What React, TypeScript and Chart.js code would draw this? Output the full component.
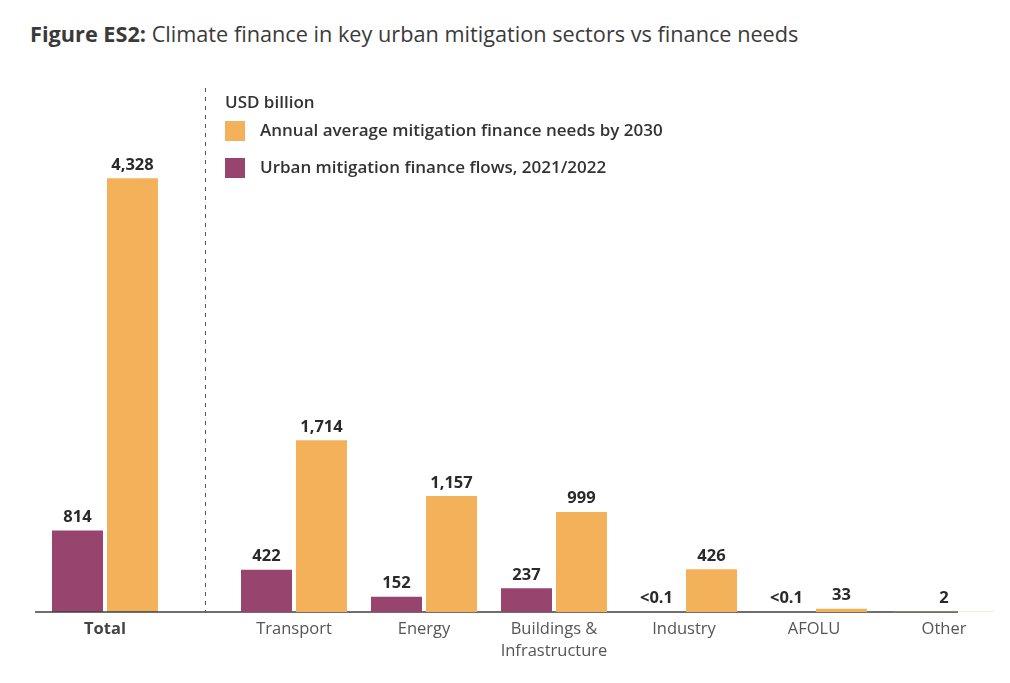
import React, { useEffect, useRef } from "react";
import { Chart, registerables } from "chart.js";

Chart.register(...registerables);

// ---- data (USD billion) ----
const totalCategory = ["Total"];
const totalFlows = [814];
const totalNeeds = [4328];

const sectorCategories: (string | string[])[] = [
  "Transport",
  "Energy",
  ["Buildings &", "Infrastructure"],
  "Industry",
  "AFOLU",
  "Other",
];
const sectorFlows: (number | null)[] = [422, 152, 237, 0.05, 0.05, null];
const sectorNeeds: number[] = [1714, 1157, 999, 426, 33, 2];

const needsLabel = "Annual average mitigation finance needs by 2030";
const flowsLabel = "Urban mitigation finance flows, 2021/2022";

const ORANGE = "#F3B25A";
const PURPLE = "#97446F";
const FONT = "'Open Sans', Lato, sans-serif";

function fmt(v: number | null): string {
  if (v === null || v === undefined) return "";
  if (v < 0.1) return "<0.1";
  return v.toLocaleString("en-US");
}

const valueLabelPlugin = {
  id: "valueLabels",
  afterDatasetsDraw(chart: any) {
    const ctx = chart.ctx;
    ctx.save();
    ctx.font = `bold 16.5px ${FONT}`;
    ctx.fillStyle = "#2a2a2a";
    ctx.textAlign = "center";
    ctx.textBaseline = "bottom";
    chart.data.datasets.forEach((ds: any, di: number) => {
      const meta = chart.getDatasetMeta(di);
      meta.data.forEach((el: any, i: number) => {
        const v = ds.data[i];
        if (v === null || v === undefined) return;
        ctx.fillText(fmt(v), el.x, el.y - 5);
      });
    });
    ctx.restore();
  },
};

const baselinePlugin = {
  id: "baseline",
  afterDraw(chart: any, _args: any, opts: any) {
    if (!opts || !opts.enabled) return;
    const ctx = chart.ctx;
    const y = chart.scales.y.getPixelForValue(0);
    ctx.save();
    ctx.strokeStyle = "#3f3f3f";
    ctx.lineWidth = 1.5;
    ctx.beginPath();
    ctx.moveTo(opts.from, y);
    ctx.lineTo(opts.to, y);
    ctx.stroke();
    // dashed divider between Total and sectors
    ctx.strokeStyle = "#555";
    ctx.lineWidth = 1;
    ctx.setLineDash([4, 5]);
    ctx.beginPath();
    ctx.moveTo(opts.dividerX, opts.dividerTop);
    ctx.lineTo(opts.dividerX, y);
    ctx.stroke();
    ctx.restore();
  },
};

type PanelProps = {
  labels: (string | string[])[];
  flows: (number | null)[];
  needs: number[];
  padLeft: number;
  padRight: number;
  catPct: number;
  boldTicks: boolean;
  drawBase: boolean;
};

function BarPanel(p: PanelProps) {
  const ref = useRef<HTMLCanvasElement>(null);
  useEffect(() => {
    if (!ref.current) return;
    const chart = new Chart(ref.current, {
      type: "bar",
      data: {
        labels: p.labels as any,
        datasets: [
          {
            label: flowsLabel,
            data: p.flows as any,
            backgroundColor: PURPLE,
            categoryPercentage: p.catPct,
            barPercentage: 0.927,
            skipNull: true,
          } as any,
          {
            label: needsLabel,
            data: p.needs,
            backgroundColor: ORANGE,
            categoryPercentage: p.catPct,
            barPercentage: 0.927,
            skipNull: true,
          } as any,
        ],
      },
      options: {
        animation: false,
        responsive: true,
        maintainAspectRatio: false,
        layout: { padding: { left: p.padLeft, right: p.padRight, top: 111, bottom: 11 } },
        plugins: {
          legend: { display: false },
          tooltip: { enabled: false },
          baseline: { enabled: p.drawBase, from: 35, to: 958, dividerX: 205.5, dividerTop: 88 },
        } as any,
        scales: {
          x: {
            grid: { display: false, drawTicks: false },
            border: { display: false },
            ticks: {
              color: p.boldTicks ? "#444" : "#555",
              font: { family: FONT, size: 16.5, weight: p.boldTicks ? "bold" : "normal", lineHeight: 1.33 },
              padding: 6,
              maxRotation: 0,
              autoSkip: false,
            },
            afterFit: (scale: any) => {
              scale.height = 60;
            },
          },
          y: { display: false, min: 0, max: 5000 },
        },
      },
      plugins: [valueLabelPlugin, baselinePlugin],
    });
    return () => chart.destroy();
  }, []);
  return (
    <div style={{ position: "absolute", left: 0, top: 0, width: 1010, height: 683 }}>
      <canvas ref={ref} />
    </div>
  );
}

export default function App() {
  return (
    <div
      style={{
        position: "absolute",
        left: 0,
        top: 0,
        width: 1010,
        height: 683,
        background: "#fff",
        fontFamily: FONT,
        overflow: "hidden",
      }}
    >
      <div
        style={{
          position: "absolute",
          left: 30,
          top: 20,
          fontSize: 21.7,
          color: "#3a3a3a",
          whiteSpace: "nowrap",
          lineHeight: "28px",
        }}
      >
        <b>Figure ES2:</b> Climate finance in key urban mitigation sectors vs finance needs
      </div>
      <BarPanel
        labels={totalCategory}
        flows={totalFlows}
        needs={totalNeeds}
        padLeft={35}
        padRight={835}
        catPct={110 / 140}
        boldTicks={true}
        drawBase={true}
      />
      <BarPanel
        labels={sectorCategories}
        flows={sectorFlows}
        needs={sectorNeeds}
        padLeft={229}
        padRight={1}
        catPct={110 / 130}
        boldTicks={false}
        drawBase={false}
      />
      <div style={{ position: "absolute", left: 225, top: 90, fontSize: 17, lineHeight: "24px", color: "#333", fontWeight: 600 }}>
        USD billion
      </div>
      <div style={{ position: "absolute", left: 225, top: 121, width: 20, height: 20, background: ORANGE }} />
      <div
        style={{ position: "absolute", left: 260, top: 118, fontSize: 17, lineHeight: "24px", color: "#333", fontWeight: 600, whiteSpace: "nowrap" }}
      >
        {needsLabel}
      </div>
      <div style={{ position: "absolute", left: 225, top: 158, width: 20, height: 20, background: PURPLE }} />
      <div
        style={{ position: "absolute", left: 260, top: 155, fontSize: 17, lineHeight: "24px", color: "#333", fontWeight: 600, whiteSpace: "nowrap" }}
      >
        {flowsLabel}
      </div>
    </div>
  );
}
